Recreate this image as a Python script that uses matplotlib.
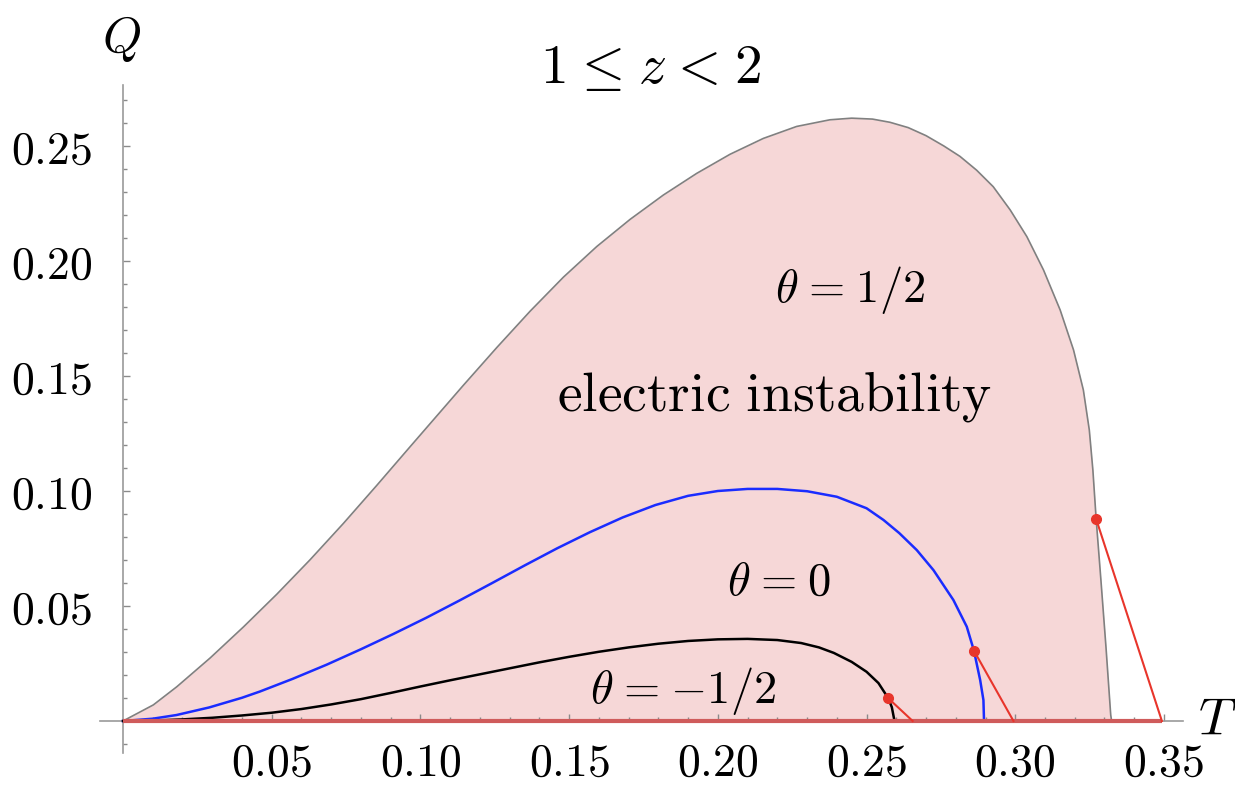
import matplotlib
matplotlib.use("Agg")
import matplotlib.pyplot as plt

plt.rcParams["mathtext.fontset"] = "cm"

# outer boundary (theta = 1/2)
gray_T = [0.0, 0.0102, 0.0181, 0.0293, 0.0405, 0.0517, 0.0629, 0.0741, 0.0853, 0.0965,
          0.1032, 0.1144, 0.1257, 0.1369, 0.1481, 0.1593, 0.1705, 0.1817, 0.1929, 0.2041,
          0.2153, 0.2265, 0.2377, 0.2450, 0.2520, 0.2579, 0.2640, 0.2700, 0.2760, 0.2814,
          0.2870, 0.2926, 0.2983, 0.3039, 0.3095, 0.3151, 0.3196, 0.3229, 0.3249, 0.3261,
          0.3272, 0.3288, 0.3305, 0.3321, 0.3324]
gray_Q = [0.0, 0.0070, 0.0149, 0.0274, 0.0409, 0.0551, 0.0701, 0.0859, 0.1024, 0.1192,
          0.1292, 0.1459, 0.1624, 0.1782, 0.1930, 0.2063, 0.2181, 0.2287, 0.2381, 0.2464,
          0.2533, 0.2585, 0.2614, 0.2621, 0.2617, 0.2603, 0.2580, 0.2545, 0.2500, 0.2455,
          0.2395, 0.2323, 0.2222, 0.2106, 0.1961, 0.1787, 0.1613, 0.1439, 0.1265, 0.1091,
          0.0878, 0.0613, 0.0322, 0.0026, 0.0]

# theta = 0
blue_T = [0.0, 0.010, 0.018, 0.029, 0.040, 0.046, 0.057, 0.0685, 0.080, 0.091,
          0.102, 0.113, 0.124, 0.135, 0.146, 0.157, 0.168, 0.179, 0.190, 0.200,
          0.210, 0.220, 0.230, 0.240, 0.250, 0.2557, 0.261, 0.2669, 0.2725, 0.2792,
          0.2837, 0.2861, 0.2882, 0.2893, 0.2895]
blue_Q = [0.0, 0.0010, 0.0026, 0.0059, 0.0101, 0.0128, 0.0183, 0.0245, 0.0312, 0.0379,
          0.0449, 0.0523, 0.0599, 0.0676, 0.0751, 0.0821, 0.0885, 0.0939, 0.0979, 0.1000,
          0.1009, 0.1009, 0.0999, 0.0975, 0.0925, 0.0874, 0.0817, 0.0743, 0.0656, 0.0526,
          0.0410, 0.0306, 0.0178, 0.0091, 0.0]

# theta = -1/2
black_T = [0.0, 0.010, 0.020, 0.030, 0.040, 0.050, 0.060, 0.070, 0.080, 0.090,
           0.100, 0.110, 0.120, 0.130, 0.140, 0.150, 0.160, 0.170, 0.180, 0.190,
           0.200, 0.210, 0.220, 0.228, 0.234, 0.239, 0.245, 0.250, 0.254, 0.2573,
           0.2585, 0.2594]
black_Q = [0.0, 0.0002, 0.0007, 0.0014, 0.0024, 0.0036, 0.0052, 0.0072, 0.0095, 0.0122,
           0.0150, 0.0177, 0.0203, 0.0229, 0.0255, 0.0279, 0.0301, 0.0320, 0.0336, 0.0348,
           0.0355, 0.0357, 0.0352, 0.0339, 0.0320, 0.0296, 0.0257, 0.0214, 0.0165, 0.0099,
           0.0060, 0.0]

# red segments: from the marked point on each curve down to the T axis
red_T0 = [0.2573, 0.2861, 0.3272]
red_Q0 = [0.0099, 0.0306, 0.0878]
red_T1 = [0.2655, 0.2994, 0.3493]

x_ticks = [0.05, 0.10, 0.15, 0.20, 0.25, 0.30, 0.35]
x_tick_labels = ["$0.05$", "$0.10$", "$0.15$", "$0.20$", "$0.25$", "$0.30$", "$0.35$"]
y_ticks = [0.05, 0.10, 0.15, 0.20, 0.25]
y_tick_labels = ["$0.05$", "$0.10$", "$0.15$", "$0.20$", "$0.25$"]
x_minor = [i / 100 for i in range(1, 36)]
y_minor = [i / 100 for i in range(-1, 28)]

W, H = 1235, 786
fig = plt.figure(figsize=(W / 100, H / 100), dpi=100)
ax = fig.add_axes([100.1 / W, (H - 753.2) / H, (1183.0 - 100.1) / W, (753.2 - 85.05) / H])
ax.set_xlim(-0.0077, 0.3564)
ax.set_ylim(-0.014, 0.2765)

for side in ["top", "right"]:
    ax.spines[side].set_visible(False)
for side in ["left", "bottom"]:
    ax.spines[side].set_position(("data", 0))
    ax.spines[side].set_color("#9a9a9a")
    ax.spines[side].set_linewidth(1.2)

ax.set_xticks(x_ticks)
ax.set_xticklabels(x_tick_labels)
ax.set_yticks(y_ticks)
ax.set_yticklabels(y_tick_labels)
ax.set_xticks(x_minor, minor=True)
ax.set_yticks(y_minor, minor=True)
ax.tick_params(which="both", direction="in", color="#8a8a8a", width=1.0)
ax.tick_params(which="major", length=5)
ax.tick_params(which="minor", length=3)
ax.tick_params(axis="x", which="major", labelsize=33, pad=14.5)
ax.tick_params(axis="y", which="major", labelsize=33, pad=22)

ax.fill_between(gray_T, 0, gray_Q, color="#f6d7d7", lw=0, zorder=1)
ax.plot(gray_T, gray_Q, color="#808080", lw=1.2, zorder=3)
ax.plot(blue_T, blue_Q, color="#1a2cff", lw=1.8, zorder=3)
ax.plot(black_T, black_Q, color="black", lw=1.8, zorder=3)

ax.plot([0, max(red_T1)], [0, 0], color="#cf5b5b", lw=3, zorder=4, solid_capstyle="butt")
for t0, q0, t1 in zip(red_T0, red_Q0, red_T1):
    ax.plot([t0, t1], [q0, 0], color="#e8352b", lw=1.5, zorder=5)
ax.plot(red_T0, red_Q0, "o", color="#e8352b", ms=7, zorder=6)

sp = r"\hspace{0.08}"
ax.text(0.2192, 0.1822, r"$\theta" + sp + "=" + sp + "1/2$", fontsize=33.5,
        ha="left", va="baseline", zorder=7)
ax.text(0.1459, 0.1352, r"$\mathrm{electric\ instability}$", fontsize=40,
        ha="left", va="baseline", zorder=7)
ax.text(0.2031, 0.0548, r"$\theta" + sp + "=" + sp + "0$", fontsize=33.5,
        ha="left", va="baseline", zorder=7)
ax.text(0.1570, 0.0078, r"$\theta" + sp + "=" + sp + "{-}1/2$", fontsize=33.5,
        ha="left", va="baseline", zorder=7)

fig.text(651 / W, 1 - 83 / H, r"$1" + sp + r"\leq" + sp + "z" + sp + "<" + sp + "2$",
         fontsize=40, ha="center", va="baseline")
fig.text(121 / W, 1 - 52 / H, r"$Q$", fontsize=36, ha="center", va="baseline")
fig.text(1198 / W, 1 - 735 / H, r"$T$", fontsize=38, ha="left", va="baseline")

fig.savefig("out.png", dpi=100)
